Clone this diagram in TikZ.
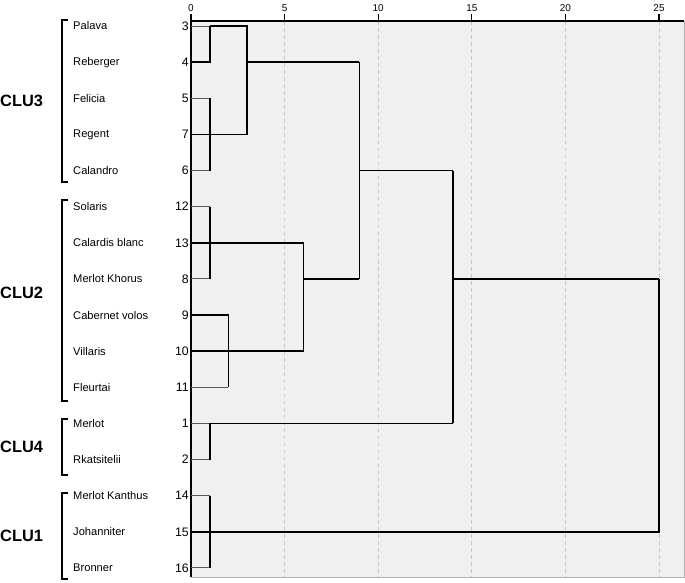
\documentclass[tikz,border=0pt]{standalone}
\usepackage{fontspec}
\setmainfont{Liberation Sans}
\usetikzlibrary{positioning, calc}
\definecolor{plotbg}{HTML}{F0F0F0}
\definecolor{gridgray}{HTML}{C8C8C8}

\begin{document}
\begin{tikzpicture}[
    x=0.03cm, y=-0.03cm,
    leafname/.style={anchor=west, inner sep=0pt, font=\fontsize{9.5}{10}\selectfont},
    leafnum/.style={anchor=east, inner sep=0pt, font=\fontsize{10.5}{11}\selectfont},
    ticklabel/.style={anchor=south, inner sep=0pt, font=\fontsize{8.5}{9}\selectfont},
    clulabel/.style={anchor=west, inner sep=0pt, font=\fontsize{14}{16}\selectfont\bfseries},
    bracket/.style={line width=1.2pt},
    stub/.style={gray!70!black, line width=0.8pt},
    link/.style={black, line width=1.4pt},
    grid/.style={gridgray, dashed, line width=0.8pt}
]
\useasboundingbox (0,0) rectangle (685,582);

% plot area
\fill[plotbg] (191,21) rectangle (684,577);
\draw[gray!60, line width=0.8pt] (191,577) -- (684,577) -- (684,21);

% distance columns
\foreach \d in {0,1,2,3,5,6,9,10,14,15,20,25}
    \coordinate (d\d) at ({191+\d*18.72},0);

\foreach \d in {5,10,15,20,25}
    \draw[grid] (d\d |- 0,21) -- (d\d |- 0,577);
\foreach \d in {0,5,10,15,20,25} {
    \draw[line width=1pt] (d\d |- 0,14) -- (d\d |- 0,21);
    \node[ticklabel] (tick\d) at (d\d |- 0,12) {\d};
}
\draw[line width=1.1pt] (191,21) -- (684,21);
\draw[line width=1.3pt] (191,21) -- (191,577);

% leaves
\foreach \n/\lab [count=\i] in {3/Palava, 4/Reberger, 5/Felicia, 7/Regent, 6/Calandro,
    12/Solaris, 13/Calardis blanc, 8/Merlot Khorus, 9/Cabernet volos, 10/Villaris,
    11/Fleurtai, 1/Merlot, 2/Rkatsitelii, 14/Merlot Kanthus, 15/Johanniter, 16/Bronner} {
    \pgfmathsetmacro\yy{26+(\i-1)*36.13}
    \node[leafname] (name\n) at (73,\yy) {\lab};
    \node[leafnum] (num\n) at (189,\yy) {\n};
    \coordinate (o\n) at (191,\yy);
}

% stubs
\foreach \n in {3,5,6,12,8,1,2,14,16}
    \draw[stub] (o\n) -- (o\n -| d1);
\draw[stub] (o11) -- (o11 -| d2);

% CLU3
\draw[link] (o4) -- (o4 -| d1) -- (o3 -| d1);
\draw[link] (o3 -| d1) -- (o3 -| d3) -- (o7 -| d3) -- (o7);
\draw[link] (o5 -| d1) -- (o6 -| d1);
\draw[link] (o4 -| d3) -- (o4 -| d9);

% CLU2
\draw[link] (o12 -| d1) -- (o8 -| d1);
\draw[link] (o13) -- (o13 -| d6) -- (o10 -| d6) -- (o10);
\draw[link] (o9) -- (o9 -| d2) -- (o11 -| d2);
\draw[link] (o8 -| d6) -- (o8 -| d9);

\draw[link] (o4 -| d9) -- (o8 -| d9);
\draw[link] (o6 -| d9) -- (o6 -| d14);

% CLU4
\draw[link] (o1 -| d1) -- (o2 -| d1);
\draw[link] (o1 -| d1) -- (o1 -| d14);
\draw[link] (o6 -| d14) -- (o1 -| d14);
\draw[link] (o8 -| d14) -- (o8 -| d25);

% CLU1
\draw[link] (o14 -| d1) -- (o16 -| d1);
\draw[link] (o15) -- (o15 -| d25) -- (o8 -| d25);

% brackets and cluster names
\draw[bracket] (68,20) -- (62,20) -- (62,182) -- (68,182);
\draw[bracket] (68,200) -- (62,200) -- (62,401) -- (68,401);
\draw[bracket] (68,419) -- (62,419) -- (62,475) -- (68,475);
\draw[bracket] (68,493) -- (62,493) -- (62,579) -- (68,579);

\node[clulabel] (clu3) at (0,101) {CLU3};
\node[clulabel] (clu2) at (0,293) {CLU2};
\node[clulabel] (clu4) at (0,447) {CLU4};
\node[clulabel] (clu1) at (0,536) {CLU1};

\end{tikzpicture}
\end{document}
